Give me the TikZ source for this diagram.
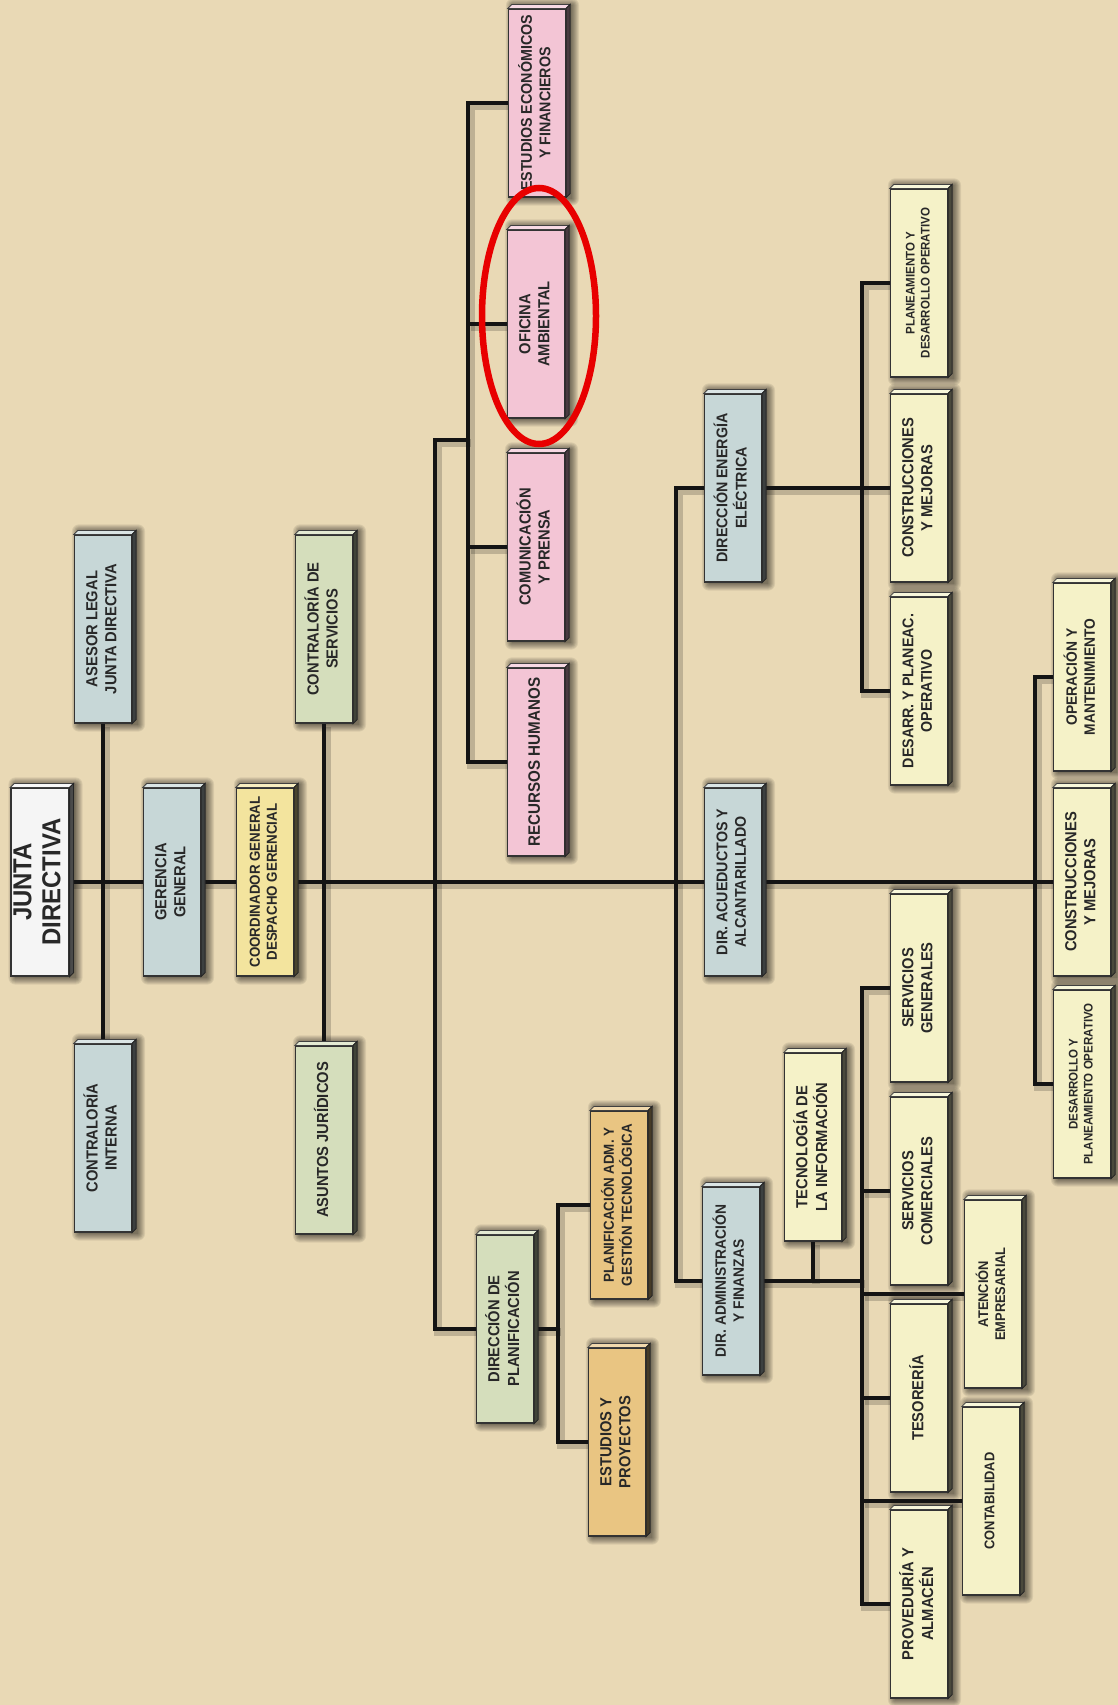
\documentclass[tikz,border=0pt]{standalone}
\usepackage{fontspec}
\setmainfont{Liberation Sans}[FakeStretch=0.92]
\usepackage{graphicx}
\usetikzlibrary{calc}
\definecolor{bg}{RGB}{233,217,181}
\definecolor{cwhite}{RGB}{245,245,245}
\definecolor{cblue}{RGB}{199,215,215}
\definecolor{cyellow}{RGB}{243,228,158}
\definecolor{cgreen}{RGB}{213,222,188}
\definecolor{cpink}{RGB}{243,197,213}
\definecolor{corange}{RGB}{233,197,130}
\definecolor{clight}{RGB}{245,242,200}
\definecolor{tgray}{RGB}{40,40,40}
\definecolor{ringred}{RGB}{232,0,0}
\newcommand\vt[1]{\rotatebox{90}{\begin{tabular}{@{}c@{}}#1\end{tabular}}}
\pgfdeclarelayer{back}
\pgfdeclarelayer{shade}
\pgfdeclarelayer{lines}
\pgfsetlayers{back,shade,lines,main}
\tikzset{
  orgbox/.style={draw=black!80, line width=1.2pt, fill=#1, minimum width=57pt,
    minimum height=188pt, inner sep=0pt, text=tgray,
    font=\bfseries\fontsize{16}{19}\selectfont},
  fsz/.style args={#1/#2}{font=\bfseries\fontsize{#1}{#2}\selectfont},
  conn/.style={draw=black!92, line width=3.2pt},
  connshadow/.style={draw=black, line width=8pt, opacity=0.18},
}
\newcommand\allconns[1]{%
  \draw[#1] (junta.east) -- (gerencia.west);
  \draw[#1] (gerencia.east) -- (coord.west);
  \draw[#1] (coord.east) -- (diracued.west);
  \draw[#1] (diracued.east) -- (constr2.west);
  \draw[#1] (asesor.south) -- (contint.north);
  \draw[#1] (contserv.south) -- (asuntos.north);
  \draw[#1] (v4m) -- (v3t) |- (dirplan.west);
  \draw[#1] (estecon.west) -| (v4x) |- (rrhh.west);
  \draw[#1] (oficina.west) -- (oficina.west -| v4x);
  \draw[#1] (comun.west) -- (comun.west -| v4x);
  \draw[#1] (dirplan.east) -- (vp);
  \draw[#1] (planadm.west) -| (vp) |- (estproy.west);
  \draw[#1] (direner.west) -| (v5) |- (diradmin.west);
  \draw[#1] (direner.east) -- (constr1.west);
  \draw[#1] (planea.west) -| (ve) |- (desarr.west);
  \draw[#1] (operac.west) -| (va) |- (desarrollo.west);
  \draw[#1] (diradmin.east) -- (vad);
  \draw[#1] (tecno.south) -- (tecno.south |- vad);
  \draw[#1] (servgen.west) -| (vad) |- (prov.west);
  \draw[#1] (servcom.west) -- (servcom.west -| vad);
  \draw[#1] (teso.west) -- (teso.west -| vad);
  \draw[#1] (atencion.west) -- (atencion.west -| vad);
  \draw[#1] (contab.west) -- (contab.west -| vad);
}
\begin{document}
\begin{tikzpicture}[x=1pt,y=-1pt]
\begin{pgfonlayer}{back}
  \fill[bg] (0,0) rectangle (1118,1705);
\end{pgfonlayer}
\useasboundingbox (0,0) rectangle (1118,1705);

% level 0-1
\node[orgbox=cwhite, fsz=26/29] (junta) at (40,882) {\vt{JUNTA\\DIRECTIVA}};
\node[orgbox=cblue] (asesor) at (103,629) {\vt{ASESOR LEGAL\\JUNTA DIRECTIVA}};
\node[orgbox=cblue] (contint) at (103,1138) {\vt{CONTRALORÍA\\INTERNA}};
\node[orgbox=cblue] (gerencia) at (172,882) {\vt{GERENCIA\\GENERAL}};
\node[orgbox=cyellow, fsz=14.5/17] (coord) at (265,882) {\vt{COORDINADOR GENERAL\\DESPACHO GERENCIAL}};
\node[orgbox=cgreen] (contserv) at (324,629) {\vt{CONTRALORÍA DE\\SERVICIOS}};
\node[orgbox=cgreen] (asuntos) at (324,1140) {\vt{ASUNTOS JURÍDICOS}};

% staff offices
\node[orgbox=cpink, fsz=16.5/19] (rrhh) at (536,762) {\vt{RECURSOS HUMANOS}};
\node[orgbox=cpink] (comun) at (536,547) {\vt{COMUNICACIÓN\\Y PRENSA}};
\node[orgbox=cpink] (oficina) at (536,324) {\vt{OFICINA\\AMBIENTAL}};
\node[orgbox=cpink, fsz=15.5/18.5] (estecon) at (537,103) {\vt{ESTUDIOS ECONÓMICOS\\Y FINANCIEROS}};

% planning
\node[orgbox=cgreen] (dirplan) at (505,1329) {\vt{DIRECCIÓN DE\\PLANIFICACIÓN}};
\node[orgbox=corange, fsz=14.5/17.5] (planadm) at (619,1205) {\vt{PLANIFICACIÓN ADM. Y\\GESTIÓN TECNOLÓGICA}};
\node[orgbox=corange] (estproy) at (617,1442) {\vt{ESTUDIOS Y\\PROYECTOS}};

% directions
\node[orgbox=cblue, fsz=15.5/18.5] (direner) at (733,488) {\vt{DIRECCIÓN ENERGÍA\\ELÉCTRICA}};
\node[orgbox=cblue, fsz=15.5/18.5] (diracued) at (733,882) {\vt{DIR. ACUEDUCTOS Y\\ALCANTARILLADO}};
\node[orgbox=cblue, fsz=15/18] (diradmin) at (731,1281) {\vt{DIR. ADMINISTRACIÓN\\Y FINANZAS}};
\node[orgbox=clight] (tecno) at (813,1147) {\vt{TECNOLOGÍA DE\\LA INFORMACIÓN}};

% energy units
\node[orgbox=clight, fsz=12.5/15] (planea) at (919,283) {\vt{PLANEAMIENTO Y\\DESARROLLO OPERATIVO}};
\node[orgbox=clight] (constr1) at (919,488) {\vt{CONSTRUCCIONES\\Y MEJORAS}};
\node[orgbox=clight, fsz=15.5/18.5] (desarr) at (919,691) {\vt{DESARR. Y PLANEAC.\\OPERATIVO}};

% admin units
\node[orgbox=clight] (servgen) at (919,988) {\vt{SERVICIOS\\GENERALES}};
\node[orgbox=clight] (servcom) at (919,1191) {\vt{SERVICIOS\\COMERCIALES}};
\node[orgbox=clight] (teso) at (919,1398) {\vt{TESORERÍA}};
\node[orgbox=clight] (prov) at (919,1604) {\vt{PROVEDURÍA Y\\ALMACÉN}};
\node[orgbox=clight, fsz=14/17] (atencion) at (993,1294) {\vt{ATENCIÓN\\EMPRESARIAL}};
\node[orgbox=clight, fsz=14/17] (contab) at (991,1501) {\vt{CONTABILIDAD}};

% water units
\node[orgbox=clight, fsz=15/18] (operac) at (1082,677) {\vt{OPERACIÓN Y\\MANTENIMIENTO}};
\node[orgbox=clight] (constr2) at (1082,882) {\vt{CONSTRUCCIONES\\Y MEJORAS}};
\node[orgbox=clight, fsz=12.5/15] (desarrollo) at (1082,1084) {\vt{DESARROLLO Y\\PLANEAMIENTO OPERATIVO}};

% 3D bevels and soft shadows
\foreach \n/\c in {junta/cwhite,asesor/cblue,contint/cblue,gerencia/cblue,coord/cyellow,
  contserv/cgreen,asuntos/cgreen,rrhh/cpink,comun/cpink,oficina/cpink,estecon/cpink,
  dirplan/cgreen,planadm/corange,estproy/corange,direner/cblue,diracued/cblue,diradmin/cblue,
  tecno/clight,planea/clight,constr1/clight,desarr/clight,servgen/clight,servcom/clight,
  teso/clight,prov/clight,atencion/clight,contab/clight,operac/clight,constr2/clight,desarrollo/clight}{
  \filldraw[fill=\c!65!white, draw=black!75, line width=0.8pt]
    (\n.north west) -- ([shift={(4,-4)}]\n.north west) -- ([shift={(4,-4)}]\n.north east) -- (\n.north east) -- cycle;
  \filldraw[fill=\c!30!black, draw=black!85, line width=0.8pt]
    (\n.north east) -- ([shift={(4,-4)}]\n.north east) -- ([shift={(4,-4)}]\n.south east) -- (\n.south east) -- cycle;
  \begin{pgfonlayer}{shade}
    \foreach \r in {0,1,...,7}{
      \fill[black, opacity=0.075, rounded corners=\r pt]
        ([shift={(5-\r,-3-\r)}]\n.north west) rectangle ([shift={(6+\r,1+\r)}]\n.south east);
    }
  \end{pgfonlayer}
}

% junction coordinates
\coordinate (v3t) at (435,440);
\coordinate (v4m) at (468,440);
\coordinate (v4x) at (468,440);
\coordinate (vp) at (558,1329);
\coordinate (v5) at (676,882);
\coordinate (ve) at (862,488);
\coordinate (va) at (1035,882);
\coordinate (vad) at (862,1281);

\begin{pgfonlayer}{lines}
  \begin{scope}[transform canvas={shift={(3pt,-3pt)}}]
    \allconns{connshadow}
  \end{scope}
  \allconns{conn}
\end{pgfonlayer}

% highlight ring
\draw[ringred, line width=6.5pt] ([shift={(3,-8)}]oficina.center) ellipse [x radius=57, y radius=128];
\end{tikzpicture}
\end{document}
